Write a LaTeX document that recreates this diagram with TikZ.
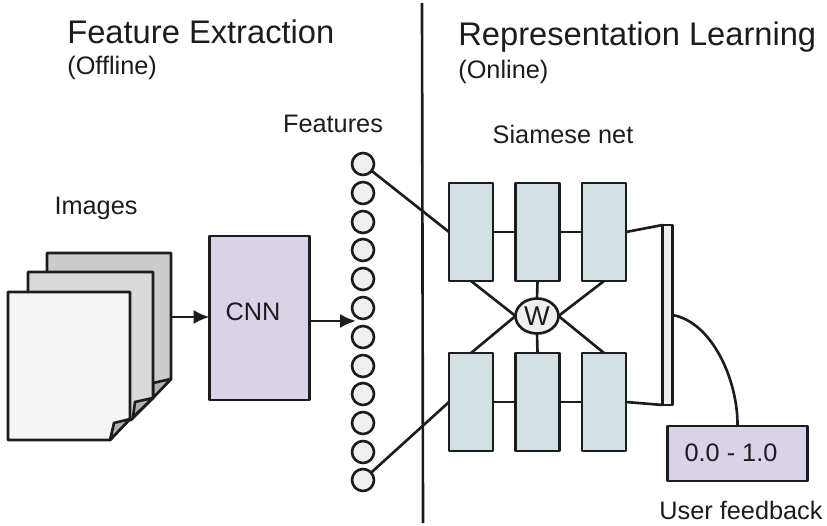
\documentclass[tikz,border=0pt]{standalone}
\usepackage{fontspec}
\setmainfont{Liberation Sans}
\usetikzlibrary{arrows.meta,shapes.geometric}
\definecolor{lineblack}{HTML}{1C1C1C}
\definecolor{cnnpurple}{HTML}{D9D2E9}
\definecolor{netblue}{HTML}{D0E0E3}
\definecolor{unitgray}{HTML}{EFEFEF}
\tikzset{
    >={Latex[length=9pt,width=8pt]},
    titletext/.style={anchor=west,inner sep=0,font=\fontsize{18.6}{22}\selectfont,text=lineblack},
    smalltext/.style={inner sep=0,font=\fontsize{14.4}{17}\selectfont,text=lineblack},
    sheet/.style={draw=lineblack,line width=1.5pt,line join=round},
    wire/.style={draw=lineblack,line width=1.5pt},
    purplebox/.style={sheet,fill=cnnpurple,inner sep=0,outer sep=0},
    netbox/.style={sheet,fill=netblue,minimum width=0.88cm,minimum height=1.96cm,inner sep=0,outer sep=0},
    feature/.style={circle,sheet,fill=unitgray,minimum size=0.44cm,inner sep=0,outer sep=0}
}
\begin{document}
\begin{tikzpicture}[x=0.02cm,y=-0.02cm]
    \useasboundingbox (0,0) rectangle (827,526);

    \node[titletext] (extractiontitle) at (67,32) {Feature Extraction};
    \node[smalltext,anchor=west] (offline) at (67,68) {(Offline)};
    \node[titletext] (learningtitle) at (458,37) {Representation Learning};
    \node[smalltext,anchor=west] (online) at (458,72) {(Online)};
    \node[smalltext] (imageslabel) at (96,208) {Images};
    \node[smalltext] (featureslabel) at (333,124) {Features};
    \node[smalltext] (siameselabel) at (563,134) {Siamese net};
    \node[smalltext] (userlabel) at (741,510) {User feedback};

    % divider
    \coordinate (dividertop) at (422,3);
    \coordinate (dividerbottom) at (423,523);
    \draw[wire] (dividertop) -- (dividerbottom);

    % image sheets, back to front
    \draw[sheet,fill=black!20] (47,253) -- (171,253) -- (171,379) -- (150,400) -- (47,400) -- cycle;
    \draw[sheet,fill=black!30] (153,383) -- (171,379) -- (153,398) -- cycle;
    \draw[sheet,fill=black!15] (28,272) -- (153,272) -- (153,398) -- (131,420) -- (28,420) -- cycle;
    \draw[sheet,fill=black!30] (135,402) -- (153,398) -- (133,417) -- cycle;
    \draw[sheet,fill=black!4] (8,292) -- (130,292) -- (130,419) -- (110,440) -- (8,440) -- cycle;
    \draw[sheet,fill=black!30] (114,423) -- (130,419) -- (110,440) -- cycle;
    \coordinate (sheetsout) at (171,317);

    \node[purplebox,minimum width=2cm,minimum height=3.28cm] (cnn) at (259.5,318) {};
    \node[smalltext] (cnnlabel) at (253,312) {CNN};

    \node[feature] (f1) at (363,164) {};
    \node[feature] (f2) at (363,193) {};
    \node[feature] (f3) at (363,222) {};
    \node[feature] (f4) at (363,250) {};
    \node[feature] (f5) at (363,279) {};
    \node[feature] (f6) at (363,308) {};
    \node[feature] (f7) at (363,337) {};
    \node[feature] (f8) at (363,366) {};
    \node[feature] (f9) at (363,394) {};
    \node[feature] (f10) at (363,423) {};
    \node[feature] (f11) at (363,452) {};
    \node[feature] (f12) at (363,480) {};

    \node[netbox] (a1) at (471,232) {};
    \node[netbox] (a2) at (537.5,232) {};
    \node[netbox] (a3) at (604,232) {};
    \node[netbox] (b1) at (471,402) {};
    \node[netbox] (b2) at (537.5,402) {};
    \node[netbox] (b3) at (604,402) {};

    \node[ellipse,sheet,fill=unitgray,minimum width=0.86cm,minimum height=0.7cm,outer sep=0,inner sep=0,font=\fontsize{15.5}{18}\selectfont,text=lineblack] (w) at (537,316) {W};
    \node[rectangle,sheet,fill=unitgray,minimum width=0.2cm,minimum height=3.6cm,inner sep=0,outer sep=0] (merge) at (667.5,315) {};
    \node[purplebox,minimum width=2.8cm,minimum height=1.1cm] (score) at (737.5,453.5) {};
    \node[smalltext] (scorelabel) at (731,453) {0.0 - 1.0};

    \coordinate (cnnout) at (311,321);
    \coordinate (featuresin) at (356,321);
    \draw[wire,->] (sheetsout) -- (cnn.west |- sheetsout);
    \draw[wire,->] (cnnout) -- (featuresin);

    \draw[wire] (f1) -- (a1.west);
    \draw[wire] (f12) -- (b1.west);
    \draw[wire] (a1) -- (a2);
    \draw[wire] (a2) -- (a3);
    \draw[wire] (b1) -- (b2);
    \draw[wire] (b2) -- (b3);
    \draw[wire] (a3.east) -- (merge.north west);
    \draw[wire] (b3.east) -- (merge.south west);

    \draw[wire] (a1.south) -- (w.west);
    \draw[wire] (a2.south) -- (w.north);
    \draw[wire] (a3.south) -- (w.east);
    \draw[wire] (b1.north) -- (w.west);
    \draw[wire] (b2.north) -- (w.south);
    \draw[wire] (b3.north) -- (w.east);

    \draw[wire] (merge.east) .. controls (712,322) and (738,380) .. (score.north);
\end{tikzpicture}
\end{document}
